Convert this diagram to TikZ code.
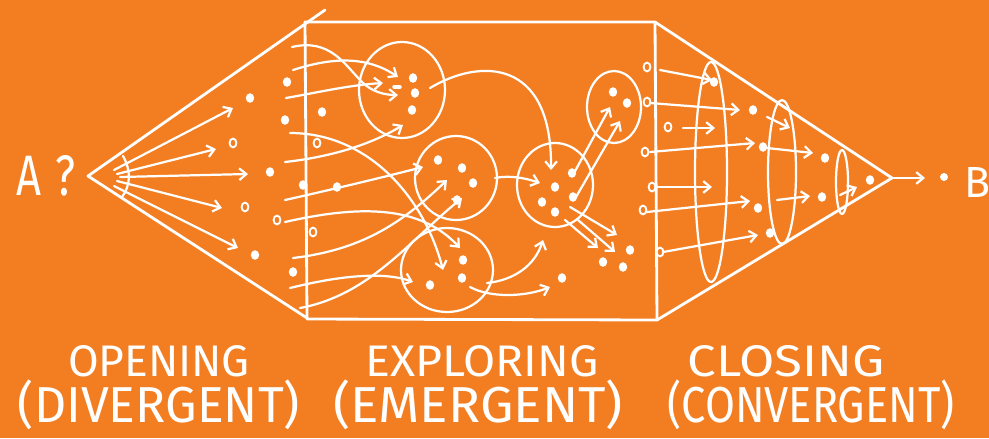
\documentclass[tikz,border=0pt]{standalone}
\usepackage{fontspec}
\setmainfont{Fira Sans}
\usetikzlibrary{arrows.meta}
\definecolor{bg}{RGB}{243,125,33}
\newlength\px
\setlength\px{0.03cm}
\newcommand\mydot[1]{\fill[white] (#1) ellipse[x radius=4.2, y radius=4.8];}
\newcommand\myring[1]{\draw[white, line width=1.6pt] (#1) ellipse[x radius=3.4, y radius=4.4];}
\tikzset{
  pen/.style={draw=white, line width=2.4pt, line cap=round, line join=round},
  fine/.style={draw=white, line width=1.9pt, line cap=round, line join=round},
  arr/.style={fine, -{Straight Barb[length=6pt,width=10pt]}},
  lab/.style={text=white, inner sep=0pt},
}
\begin{document}
\begin{tikzpicture}[x=0.03cm, y=-0.03cm]
\fill[bg] (0,0) rectangle (989,438);
\useasboundingbox (0,0) rectangle (989,438);

% ---------- opening (divergent) ----------
\coordinate (apexA) at (88,176);
\coordinate (topA) at (325,10);
\coordinate (botA) at (307,318);
\draw[pen] (topA) -- (apexA) -- (botA);
\draw[fine] (123,156) .. controls (131,170) and (131,185) .. (122,197);
\draw[arr] (114,170) -- (233,108);
\draw[arr] (117,174) -- (216,149);
\draw[arr] (120,177) -- (248,174);
\draw[arr] (117,181) -- (222,208);
\draw[arr] (114,186) -- (238,248);
\mydot{250,98} \mydot{287,82} \mydot{285,120} \myring{233,143}
\mydot{270,172} \myring{245,207} \myring{277,220} \mydot{255,255}
\mydot{293,272}

% ---------- exploring (emergent) box ----------
\coordinate (b1) at (305,22);
\coordinate (b2) at (655,22);
\coordinate (b3) at (657,320);
\coordinate (b4) at (307,319);
\draw[pen] (b1) -- (b2) -- (b3) -- (b4) -- cycle;

% circles
\draw[fine] (402,90) ellipse[x radius=43, y radius=48];
\draw[fine] (456,178) ellipse[x radius=41, y radius=42];
\draw[fine] (447,270) ellipse[x radius=46, y radius=42];
\draw[fine] (555,185) ellipse[x radius=38, y radius=42];
\draw[fine] (614,107) ellipse[x radius=27, y radius=36];

% curves from the left edge
\draw[arr] (292,47) .. controls (330,38) and (345,65) .. (362,82) .. controls (372,92) and (385,95) .. (398,95);
\draw[arr] (293,70) .. controls (330,58) and (365,55) .. (398,77);
\draw[arr] (286,98) .. controls (320,92) and (350,85) .. (383,83);
\draw[arr] (290,133) .. controls (370,133) and (425,200) .. (443,270);
\draw[arr] (285,162) .. controls (330,157) and (370,145) .. (403,125);
\draw[arr] (285,200) .. controls (330,190) and (380,178) .. (423,167);
\draw[arr] (285,222) .. controls (360,205) and (420,205) .. (460,248);
\draw[arr] (293,258) .. controls (360,250) and (400,225) .. (447,180);
\draw[arr] (290,288) .. controls (330,278) and (380,270) .. (413,282);
\draw[arr] (300,308) .. controls (370,295) and (410,240) .. (462,198);

% curves between circles
\draw[arr] (430,88) .. controls (480,58) and (552,58) .. (551,170);
\draw[arr] (495,178) .. controls (510,175) and (525,178) .. (540,183);
\draw[arr] (574,173) -- (610,107);
\draw[arr] (576,197) -- (620,121);
\draw[arr] (570,207) -- (617,235);
\draw[arr] (565,220) -- (598,248);
\draw[arr] (578,220) -- (615,252);
\draw[arr] (487,283) .. controls (515,280) and (535,265) .. (543,240);
\draw[arr] (470,287) .. controls (490,298) and (525,297) .. (550,287);

% dots in the box
\mydot{322,112} \myring{317,143} \mydot{337,187} \myring{313,232} \mydot{303,185}
\mydot{413,78} \mydot{415,93} \mydot{412,110}
\draw[pen, line width=3pt] (394,87) -- (400,87);
\mydot{438,160} \mydot{462,168} \mydot{473,183} \mydot{457,200}
\mydot{463,260} \mydot{462,278} \mydot{430,285}
\mydot{555,187} \mydot{542,202} \mydot{555,212} \mydot{572,173} \mydot{573,197}
\mydot{613,92} \mydot{627,103}
\mydot{630,250} \mydot{603,262} \mydot{623,267} \mydot{562,278}

% ---------- closing (convergent) ----------
\coordinate (apexB) at (892,178);
\draw[pen] (b2) -- (apexB) -- (b3);
\draw[fine] (711,172) ellipse[x radius=16, y radius=110];
\draw[fine] (782,172) ellipse[x radius=14, y radius=72];
\draw[fine] (842,182) ellipse[x radius=6, y radius=32];
\myring{647,67} \myring{647,102} \myring{668,127} \myring{645,152}
\myring{652,187} \myring{643,210} \myring{660,252}
\draw[arr] (660,70) -- (712,80);
\draw[arr] (650,103) -- (740,110);
\draw[arr] (683,128) -- (715,128);
\draw[arr] (650,152) -- (755,143);
\draw[arr] (656,187) -- (712,187);
\draw[arr] (647,212) -- (750,201);
\draw[arr] (663,252) -- (758,235);
\draw[arr] (767,117) -- (790,128);
\draw[arr] (767,148) -- (813,153);
\draw[arr] (777,200) -- (810,196);
\draw[arr] (840,195) -- (857,187);
\mydot{714,82} \mydot{753,110} \mydot{763,147} \mydot{758,208} \mydot{770,233}
\mydot{825,158} \mydot{822,197} \mydot{870,180}
\coordinate (outB) at (925,178);
\draw[arr] (apexB) -- (outB);
\fill[white] (944,177) circle[radius=4];

% ---------- texts ----------
\node[lab, anchor=center] (tA) at (46,176) {\resizebox{58\px}{40\px}{A\hspace{0.3em}?}};
\node[lab, anchor=west] (tB) at (964,182) {\resizebox{26\px}{30\px}{B}};
\node[lab] (open) at (159,361) {\resizebox{182\px}{31\px}{OPENING}};
\node[lab] (div) at (159,405) {\resizebox*{282\px}{50\px}{(DIVERGENT)}};
\node[lab] (expl) at (482,361) {\resizebox{233\px}{31\px}{EXPLORING}};
\node[lab] (emer) at (478,405) {\resizebox*{290\px}{50\px}{(EMERGENT)}};
\node[lab] (clos) at (786,361) {\resizebox{197\px}{31\px}{CLOSING}};
\node[lab] (conv) at (811,405) {\resizebox*{287\px}{50\px}{(CONVERGENT)}};
\end{tikzpicture}
\end{document}
